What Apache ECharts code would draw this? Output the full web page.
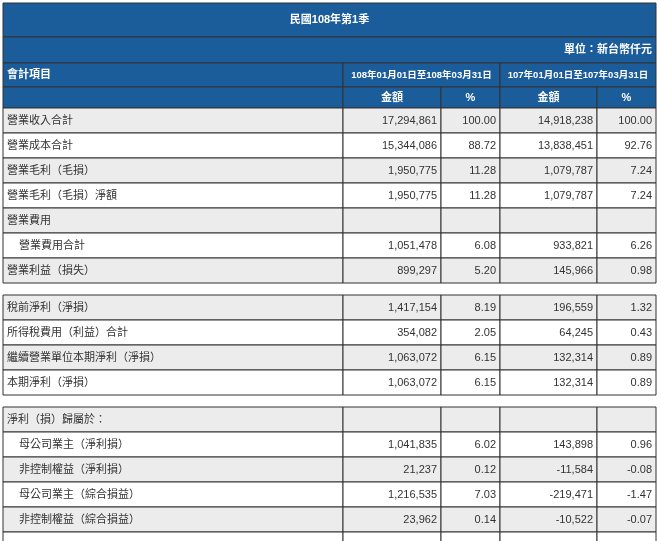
<!DOCTYPE html><html><head><meta charset="utf-8">
<script src="https://cdn.jsdelivr.net/npm/echarts@6/dist/echarts.min.js"></script>
<style>html,body{margin:0;padding:0;background:#fff}#c{width:661px;height:541px}</style></head><body><div id="c"></div>
<script>
const title = '民國108年第1季';
const unit = '單位：新台幣仟元';
const colHead = ['會計項目', '108年01月01日至108年03月31日', '107年01月01日至107年03月31日'];
const subHead = ['金額', '%', '金額', '%'];
const items = ['營業收入合計','營業成本合計','營業毛利（毛損）','營業毛利（毛損）淨額','營業費用','營業費用合計','營業利益（損失）',
  '稅前淨利（淨損）','所得稅費用（利益）合計','繼續營業單位本期淨利（淨損）','本期淨利（淨損）',
  '淨利（損）歸屬於：','母公司業主（淨利損）','非控制權益（淨利損）','母公司業主（綜合損益）','非控制權益（綜合損益）',''];
const indent = [0,0,0,0,0,1,0, 0,0,0,0, 0,1,1,1,1,0];
const section = [0,0,0,0,0,0,0, 1,1,1,1, 2,2,2,2,2,2];
const amt108 = ['17,294,861','15,344,086','1,950,775','1,950,775','','1,051,478','899,297','1,417,154','354,082','1,063,072','1,063,072','','1,041,835','21,237','1,216,535','23,962',''];
const pct108 = ['100.00','88.72','11.28','11.28','','6.08','5.20','8.19','2.05','6.15','6.15','','6.02','0.12','7.03','0.14',''];
const amt107 = ['14,918,238','13,838,451','1,079,787','1,079,787','','933,821','145,966','196,559','64,245','132,314','132,314','','143,898','-11,584','-219,471','-10,522',''];
const pct107 = ['100.00','92.76','7.24','7.24','','6.26','0.98','1.32','0.43','0.89','0.89','','0.96','-0.08','-1.47','-0.07',''];

const X = [3, 343, 441, 500, 597, 656];
const BLUE = '#1b5c9b', LINE = '#333', F = '"Liberation Sans", "Noto Sans CJK TC", sans-serif';
const g = [];
function rect(x,y,w,h,fill,stroke){g.push({type:'rect',shape:{x,y,width:w,height:h},style:{fill,stroke:stroke||null,lineWidth:1}});}
function text(x,y,t,align,color,bold,size){g.push({type:'text',x,y,style:{text:t,align,verticalAlign:'middle',fill:color,font:(bold?'bold ':'')+(size||11)+'px '+F}});}
const W = X[5]-X[0];
rect(X[0],3,W,34,BLUE,LINE); text(X[0]+W/2,20,title,'center','#fff',true);
rect(X[0],37,W,26,BLUE,LINE); text(X[5]-4,50,unit,'right','#fff',true);
rect(X[0],63,X[1]-X[0],24,BLUE,LINE); text(X[0]+4,75,colHead[0],'left','#fff',true);
rect(X[1],63,X[3]-X[1],24,BLUE,LINE); text((X[1]+X[3])/2,75,colHead[1],'center','#fff',true,9.5);
rect(X[3],63,X[5]-X[3],24,BLUE,LINE); text((X[3]+X[5])/2,75,colHead[2],'center','#fff',true,9.5);
rect(X[0],87,X[1]-X[0],21,BLUE,LINE);
for(let i=0;i<4;i++){rect(X[i+1],87,X[i+2]-X[i+1],21,BLUE,LINE);text((X[i+1]+X[i+2])/2,98,subHead[i],'center','#fff',true);}
const RH = 25, GAP = 12;
let y = 108, prevSec = 0, k = 0;
items.forEach((name,i)=>{
  if(section[i]!==prevSec){y+=GAP;prevSec=section[i];k=0;}
  const fill = k%2===0 ? '#ececec' : '#ffffff';
  const vals=[amt108[i],pct108[i],amt107[i],pct107[i]];
  rect(X[0],y,X[1]-X[0],RH,fill,LINE);
  text(X[0]+4+indent[i]*12,y+RH/2,name,'left','#333',false);
  for(let c=0;c<4;c++){rect(X[c+1],y,X[c+2]-X[c+1],RH,fill,LINE);text(X[c+2]-4,y+RH/2,vals[c],'right','#333',false);}
  y+=RH;k++;
});
const chart = echarts.init(document.getElementById('c'));
chart.setOption({animation:false,graphic:{elements:g}});
</script></body></html>
